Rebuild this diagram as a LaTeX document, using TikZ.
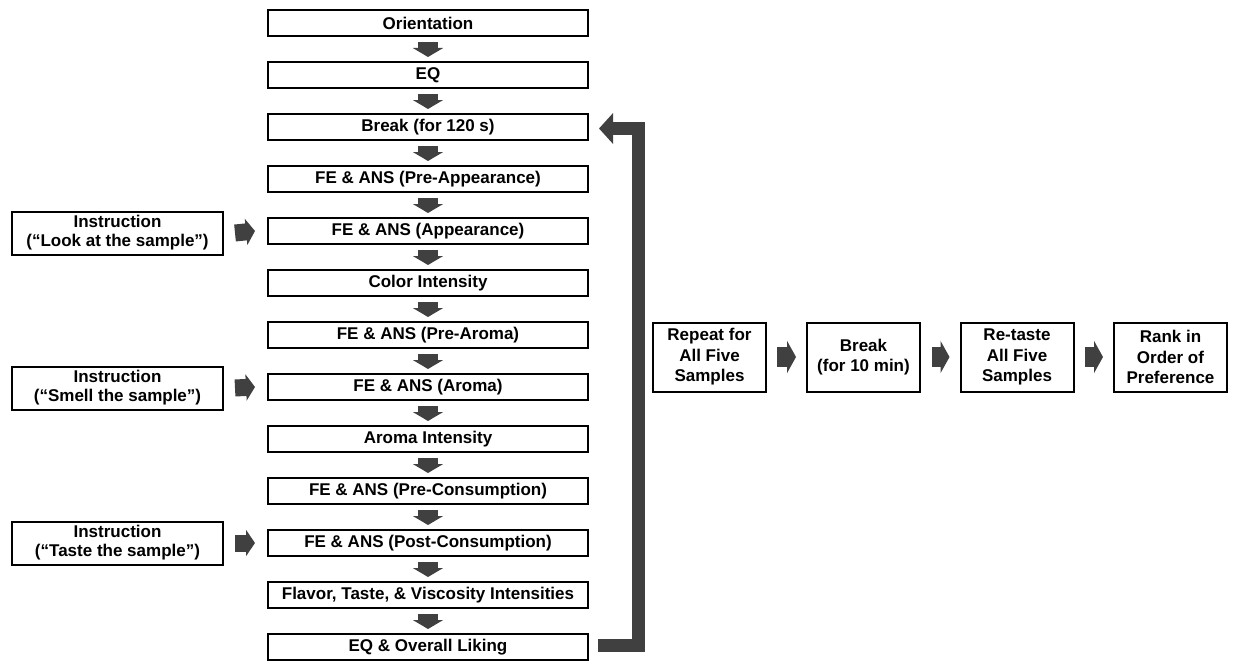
\documentclass[tikz,border=0pt]{standalone}
\usepackage{fontspec}
\setmainfont{Liberation Sans}
\usetikzlibrary{arrows.meta}
\definecolor{arr}{RGB}{64,64,64}
\tikzset{
  box/.style={draw=black, line width=2pt, inner sep=0pt, align=center,
    font=\bfseries\fontsize{17}{19}\selectfont},
  mainbox/.style={box, minimum width=320pt, minimum height=26pt},
  instbox/.style={box, minimum width=211pt, minimum height=43pt},
  sidebox/.style={box, minimum width=113pt, minimum height=69pt,
    font=\bfseries\fontsize{17}{20.5}\selectfont},
  darrow/.style={draw=arr, line width=20pt, -{Triangle[length=9pt,width=30pt]}},
  harrow/.style={draw=arr, line width=17pt, -{Triangle[length=9pt,width=26pt]}},
  rarrow/.style={draw=arr, line width=20pt, -{Triangle[length=9pt,width=32pt]}},
  retarrow/.style={draw=arr, line width=13pt, line join=miter, -{Triangle[length=14pt,width=30pt]}},
}
\begin{document}
\begin{tikzpicture}[x=1pt,y=-1pt]
\useasboundingbox (0,0) rectangle (1233,661);
% main column
\node[mainbox] (o)   at (428,23)  {Orientation};
\node[mainbox] (eq)  at (428,75)  {EQ};
\node[mainbox] (brk) at (428,127) {Break (for 120 s)};
\node[mainbox] (pa)  at (428,179) {FE \& ANS (Pre-Appearance)};
\node[mainbox] (ap)  at (428,231) {FE \& ANS (Appearance)};
\node[mainbox] (ci)  at (428,283) {Color Intensity};
\node[mainbox] (pr)  at (428,335) {FE \& ANS (Pre-Aroma)};
\node[mainbox] (ar)  at (428,387) {FE \& ANS (Aroma)};
\node[mainbox] (ai)  at (428,439) {Aroma Intensity};
\node[mainbox] (pc)  at (428,491) {FE \& ANS (Pre-Consumption)};
\node[mainbox] (po)  at (428,543) {FE \& ANS (Post-Consumption)};
\node[mainbox] (fl)  at (428,595) {Flavor, Taste, \& Viscosity Intensities};
\node[mainbox] (ol)  at (428,647) {EQ \& Overall Liking};
% instruction boxes
\node[instbox] (i1) at (117.5,233) {Instruction\\(“Look at the sample”)};
\node[instbox] (i2) at (117.5,388) {Instruction\\(“Smell the sample”)};
\node[instbox] (i3) at (117.5,543) {Instruction\\(“Taste the sample”)};
% right boxes
\node[sidebox] (rp) at (709.5,357) {Repeat for\\All Five\\Samples};
\node[sidebox] (bk) at (863.5,357) {Break\\(for 10 min)};
\node[sidebox] (rt) at (1017,357) {Re-taste\\All Five\\Samples};
\node[sidebox] (rk) at (1170.5,357) {Rank in\\Order of\\Preference};
% down arrows
\foreach \a/\b in {o/eq, eq/brk, brk/pa, pa/ap, ap/ci, ci/pr, pr/ar, ar/ai, ai/pc, pc/po, po/fl, fl/ol}
  \draw[darrow] ([yshift=-5pt]\a.south) -- ([yshift=4pt]\b.north);
% side arrows
\draw[harrow] ([xshift=11pt]i1.east) -- ([xshift=-12pt]ap.west);
\draw[harrow] ([xshift=11pt]i2.east) -- ([xshift=-12pt]ar.west);
\draw[harrow] ([xshift=11pt]i3.east) -- ([xshift=-12pt]po.west);
% right arrows
\draw[rarrow] ([xshift=10pt]rp.east) -- ([xshift=-10pt]bk.west);
\draw[rarrow] ([xshift=11pt]bk.east) -- ([xshift=-10pt]rt.west);
\draw[rarrow] ([xshift=10pt]rt.east) -- ([xshift=-10pt]rk.west);
% return arrow
\draw[retarrow] ([xshift=9pt,yshift=1.5pt]ol.east) -| ([xshift=49.5pt,yshift=-1.5pt]brk.east) -- ([xshift=10pt,yshift=-1.5pt]brk.east);
\end{tikzpicture}
\end{document}
